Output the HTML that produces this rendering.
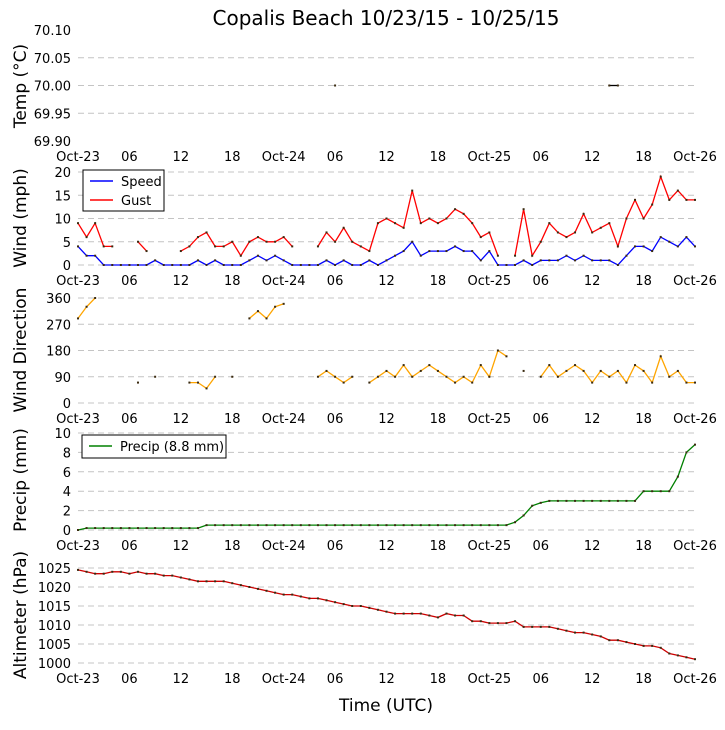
<!DOCTYPE html>
<html><head><meta charset="utf-8"><style>
body{margin:0;background:#fff}
svg text{font-family:"DejaVu Sans","Liberation Sans",sans-serif}
</style></head><body>
<svg id="chart" width="725" height="725" xmlns="http://www.w3.org/2000/svg">
<rect width="725" height="725" fill="#fff"/>
<text x="386" y="25" font-size="20" text-anchor="middle">Copalis Beach 10/23/15 - 10/25/15</text>
<text x="386" y="711" font-size="17" text-anchor="middle">Time (UTC)</text>
</svg>
<script>
const xTickLabels=["Oct-23","06","12","18","Oct-24","06","12","18","Oct-25","06","12","18","Oct-26"];
const temp=[];for(let i=0;i<=72;i++)temp.push(null);
temp[30]=70;temp[62]=70;temp[63]=70;
const speed=[4,2,2,0,0,0,0,0,0,1,0,0,0,0,1,0,1,0,0,0,1,2,1,2,1,0,0,0,0,1,0,1,0,0,1,0,1,2,3,5,2,3,3,3,4,3,3,1,3,0,0,0,1,0,1,1,1,2,1,2,1,1,1,0,2,4,4,3,6,5,4,6,4];
const gust=[9,6,9,4,4,null,null,5,3,null,null,null,3,4,6,7,4,4,5,2,5,6,5,5,6,4,null,null,4,7,5,8,5,4,3,9,10,9,8,16,9,10,9,10,12,11,9,6,7,2,null,2,12,2,5,9,7,6,7,11,7,8,9,4,10,14,10,13,19,14,16,14,14];
const direction=[290,330,360,null,null,null,null,70,null,90,null,null,null,70,70,50,90,null,90,null,290,315,290,330,340,null,null,null,90,110,90,70,90,null,70,90,110,90,130,90,110,130,110,90,70,90,70,130,90,180,160,null,110,null,90,130,90,110,130,110,70,110,90,110,70,130,110,70,160,90,110,70,70];
const precip=[0,0.2,0.2,0.2,0.2,0.2,0.2,0.2,0.2,0.2,0.2,0.2,0.2,0.2,0.2,0.5,0.5,0.5,0.5,0.5,0.5,0.5,0.5,0.5,0.5,0.5,0.5,0.5,0.5,0.5,0.5,0.5,0.5,0.5,0.5,0.5,0.5,0.5,0.5,0.5,0.5,0.5,0.5,0.5,0.5,0.5,0.5,0.5,0.5,0.5,0.5,0.8,1.5,2.5,2.8,3,3,3,3,3,3,3,3,3,3,3,4,4,4,4,5.5,8,8.8];
const altimeter=[1024.5,1024,1023.5,1023.5,1024,1024,1023.5,1024,1023.5,1023.5,1023,1023,1022.5,1022,1021.5,1021.5,1021.5,1021.5,1021,1020.5,1020,1019.5,1019,1018.5,1018,1018,1017.5,1017,1017,1016.5,1016,1015.5,1015,1015,1014.5,1014,1013.5,1013,1013,1013,1013,1012.5,1012,1013,1012.5,1012.5,1011,1011,1010.5,1010.5,1010.5,1011,1009.5,1009.5,1009.5,1009.5,1009,1008.5,1008,1008,1007.5,1007,1006,1006,1005.5,1005,1004.5,1004.5,1004,1002.5,1002,1001.5,1001];
const tempTicks=["70.10","70.05","70.00","69.95","69.90"];
const windTicks=[0,5,10,15,20];
const dirTicks=[0,90,180,270,360];
const precipTicks=[0,2,4,6,8,10];
const altTicks=[1000,1005,1010,1015,1020,1025];

const svg=document.getElementById('chart');
const NS='http://www.w3.org/2000/svg';
const X0=78,X1=695;
function xs(h){return X0+(X1-X0)*h/72;}
function mk(tag,attrs,parent){const e=document.createElementNS(NS,tag);for(const k in attrs)e.setAttribute(k,attrs[k]);(parent||svg).appendChild(e);return e;}

function panel(name,top,bot,min,max,ticks,label,labelY,gridEnds){
  const g=mk('g',{});
  
  
  const ys=v=>bot-(v-min)/(max-min)*(bot-top);
  ticks.forEach((t,i)=>{
    const v=parseFloat(t),y=ys(v);
    if(gridEnds||(i>0&&i<ticks.length-1)){
      const l=mk('line',{x1:X0,x2:X1,y1:y,y2:y,stroke:'#c4c4c4','stroke-width':1,'stroke-dasharray':'6,4'},g);
      
      
    }
    const tx=mk('text',{x:71,y:y+5,'font-size':13,'text-anchor':'end'},g);
    
    
    tx.textContent=t;
  });
  xTickLabels.forEach((t,i)=>{
    const tx=mk('text',{x:xs(i*6),y:bot+20,'font-size':13,'text-anchor':'middle'},g);
    
    
    tx.textContent=t;
  });
  const yl=mk('text',{x:0,y:0,'font-size':17,'text-anchor':'middle',transform:'translate(26,'+labelY+') rotate(-90)'},g);
  
  
  yl.textContent=label;
  return {g,ys};
}
function series(p,data,color,name){
  let d='',pen=false;
  data.forEach((v,i)=>{
    if(v===null){pen=false;return;}
    d+=(pen?'L':'M')+xs(i).toFixed(1)+','+p.ys(v).toFixed(1);pen=true;
  });
  const path=mk('path',{d:d,fill:'none',stroke:color,'stroke-width':1.3},p.g);
  
  
  data.forEach((v,i)=>{
    if(v===null)return;
    const r=mk('rect',{x:xs(i)-1,y:p.ys(v)-1,width:2,height:2,fill:'#3a2a10'},p.g);
    
    
  });
}
const pT=panel('temp',30,141,69.90,70.10,tempTicks,'Temp (\u00b0C)',86,false);
series(pT,temp,'#000','temp');
const pW=panel('wind',172,265,0,20,windTicks,'Wind (mph)',218,true);
series(pW,speed,'#0000ff','speed');
series(pW,gust,'#ff0000','gust');
const pD=panel('direction',298,403,0,360,dirTicks,'Wind Direction',350,true);
series(pD,direction,'#ffa500','direction');
const pP=panel('precip',433,530,0,10,precipTicks,'Precip (mm)',480,true);
series(pP,precip,'#008000','precip');
const pA=panel('altimeter',568,663,1000,1025,altTicks,'Altimeter (hPa)',615,true);
series(pA,altimeter,'#cc0000','altimeter');

function legend(x,y,w,h,items,name){
  const g=mk('g',{});
  
  
  mk('rect',{x:x,y:y,width:w,height:h,fill:'#fff',stroke:'#000','stroke-width':1},g);
  items.forEach((it,i)=>{
    const yy=y+11+i*19;
    const l=mk('line',{x1:x+7,x2:x+30,y1:yy,y2:yy,stroke:it[1],'stroke-width':1.5},g);
    
    
    const t=mk('text',{x:x+38,y:yy+5,'font-size':13},g);
    
    
    t.textContent=it[0];
  });
}
legend(83,170,81,41,[['Speed','#0000ff'],['Gust','#ff0000']],'wind-legend');
legend(82,435,144,23,[['Precip (8.8 mm)','#008000']],'precip-legend');
</script>
</body></html>
